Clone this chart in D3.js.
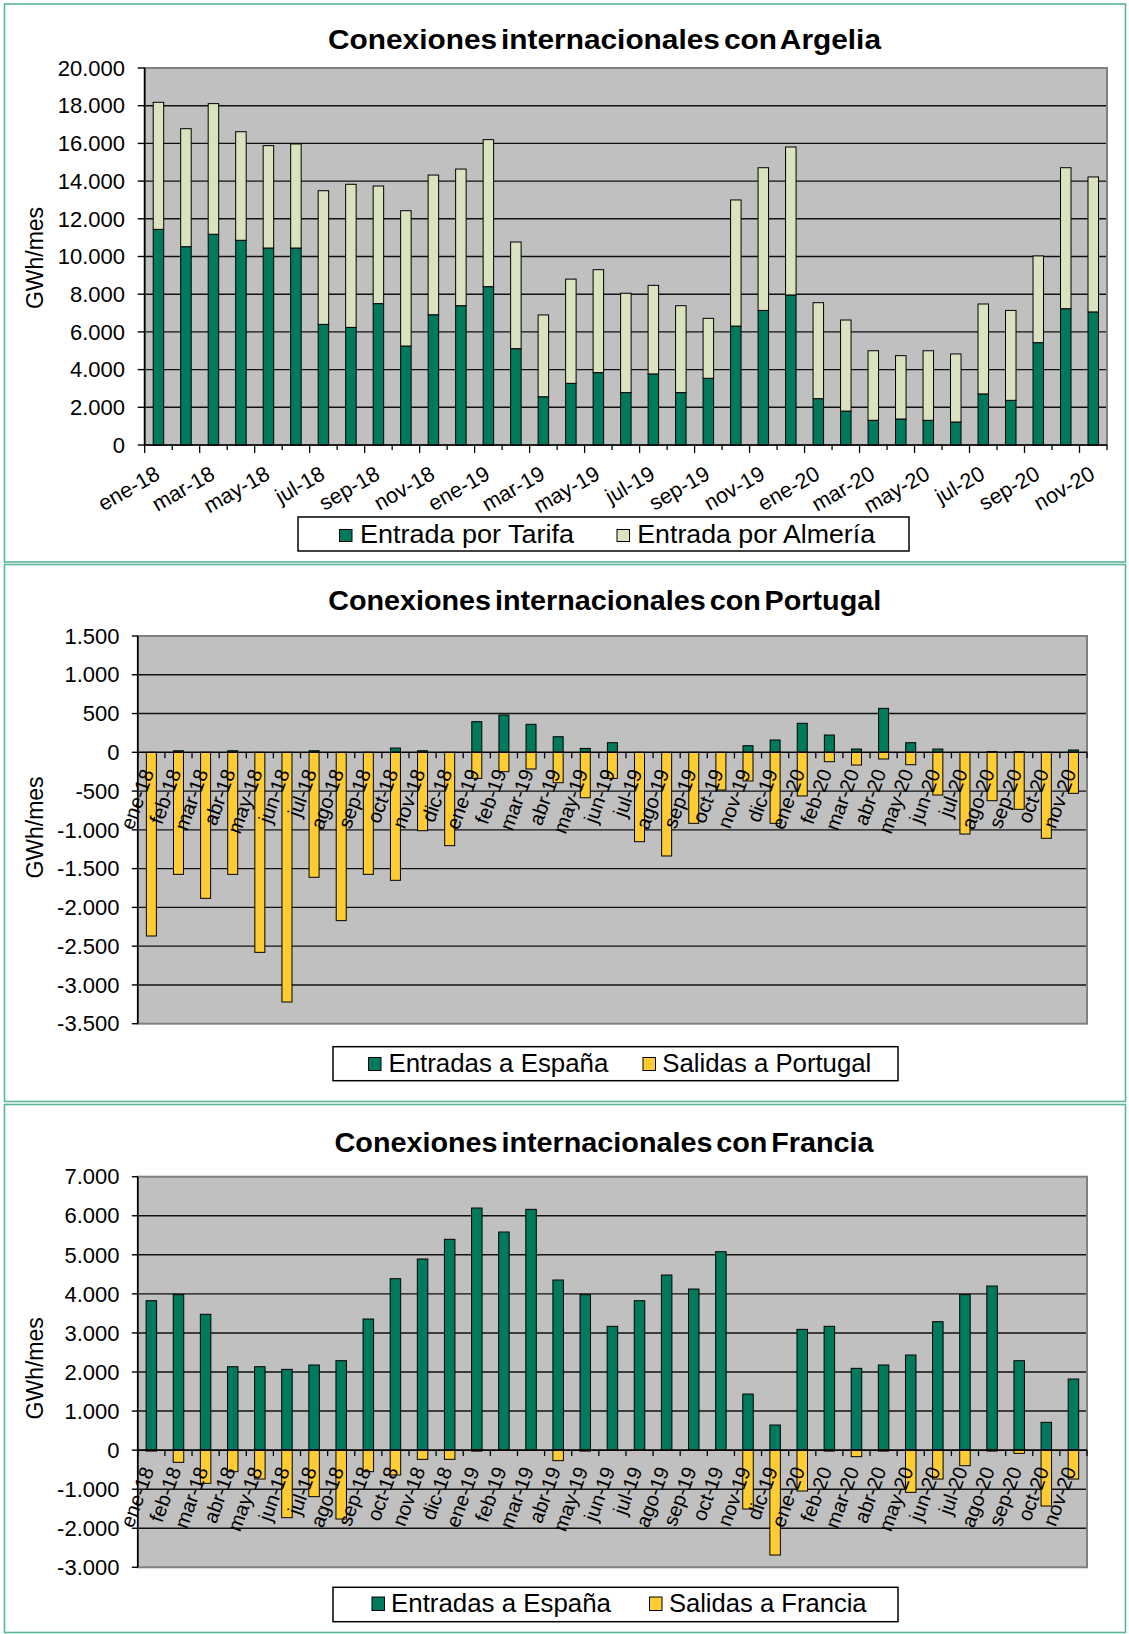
<!DOCTYPE html>
<html><head><meta charset="utf-8">
<script src="https://cdn.jsdelivr.net/npm/d3@7"></script>
<style>
body{margin:0;background:#fff;}
svg{display:block;font-family:"Liberation Sans",Arial,Helvetica,sans-serif;}
</style>
</head><body>
<svg id="c" width="1129" height="1634"></svg>
<script>
// ---------- DATA ----------
const months = ["ene-18","feb-18","mar-18","abr-18","may-18","jun-18","jul-18","ago-18","sep-18","oct-18","nov-18","dic-18",
  "ene-19","feb-19","mar-19","abr-19","may-19","jun-19","jul-19","ago-19","sep-19","oct-19","nov-19","dic-19",
  "ene-20","feb-20","mar-20","abr-20","may-20","jun-20","jul-20","ago-20","sep-20","oct-20","nov-20"];

const argeliaTarifa  = [11440,10520,11180,10860,10450,10450,6400,6240,7500,5250,6910,7390,8400,5110,2560,3270,3840,2780,3770,2780,3540,6310,7140,7960,2460,1800,1310,1380,1310,1220,2710,2370,5430,7230,7060];
const argeliaAlmeria = [6740,6260,6930,5760,5430,5520,7090,7590,6240,7180,7410,7250,7800,5660,4340,5530,5460,5270,4700,4610,3180,6690,7570,7850,5090,4830,3690,3360,3690,3610,4770,4770,4600,7480,7160];

const portugalEntradas = [0,20,0,20,0,0,20,0,0,55,20,0,395,481,361,201,50,124,0,0,0,0,85,159,374,223,42,567,124,42,0,8,8,0,30];
const portugalSalidas  = [-2369,-1574,-1883,-1574,-2580,-3220,-1612,-2171,-1574,-1651,-1011,-1204,-336,-250,-215,-392,-586,-336,-1153,-1337,-916,-486,-370,-916,-563,-121,-164,-86,-160,-551,-1054,-624,-735,-1109,-529];

const franciaEntradas = [3825,3980,3477,2135,2135,2068,2179,2289,3357,4389,4893,5397,6198,5584,6165,4355,3980,3169,3825,4483,4124,5080,1436,643,3092,3169,2094,2179,2435,3288,3980,4201,2289,711,1820];
const franciaSalidas  = [-25,-313,-851,-552,-740,-1730,-1192,-1764,-552,-637,-236,-236,-25,0,0,-270,-25,0,0,0,0,0,-1508,-2686,-1047,-25,-168,-25,-1081,-740,-399,-25,-83,-1431,-740];

const argeliaTicks  = [0,2000,4000,6000,8000,10000,12000,14000,16000,18000,20000];
const portugalTicks = [-3500,-3000,-2500,-2000,-1500,-1000,-500,0,500,1000,1500];
const franciaTicks  = [-3000,-2000,-1000,0,1000,2000,3000,4000,5000,6000,7000];

const titles = ["Conexiones internacionales con Argelia","Conexiones internacionales con Portugal","Conexiones internacionales con Francia"];
const yTitle = "GWh/mes";
const legendArgelia  = ["Entrada por Tarifa","Entrada por Almería"];
const legendPortugal = ["Entradas a España","Salidas a Portugal"];
const legendFrancia  = ["Entradas a España","Salidas a Francia"];

// ---------- STYLE ----------
const C_DARK = "#007A5C", C_LIGHT = "#D9E4BE", C_YEL = "#FFCC33", C_BG = "#C0C0C0", C_PANEL = "#5BB597";
const loc = d3.formatLocale({decimal:",", thousands:".", grouping:[3], currency:["","€"], minus:"-"});
const fmt = loc.format(",d");
const svg = d3.select("#c");

function drawChart(cfg){
  const g = svg.append("g");
  // panel
  g.append("rect").attr("x",cfg.panel[0]).attr("y",cfg.panel[1]).attr("width",cfg.panel[2]).attr("height",cfg.panel[3])
    .attr("fill","#fff").attr("stroke",C_PANEL).attr("stroke-width",1.6);
  // title
  g.append("text").attr("x",cfg.title.x).attr("y",cfg.title.y).attr("text-anchor","middle")
    .attr("font-size",28).attr("font-weight","bold").attr("word-spacing",-4)
    .attr("textLength",cfg.title.len).attr("lengthAdjust","spacingAndGlyphs")
    .text(cfg.title.text);

  const [px0,px1,py0,py1] = cfg.plot;
  const x = d3.scaleBand().domain(months).range([px0,px1]).paddingInner(0).paddingOuter(0);
  const y = d3.scaleLinear().domain(cfg.domain).range([py1,py0]);
  const bw = cfg.barW;

  g.append("rect").attr("x",px0).attr("y",py0).attr("width",px1-px0).attr("height",py1-py0).attr("fill",C_BG);
  // gridlines
  g.selectAll(".grid").data(cfg.ticks.filter(t=>t!==cfg.domain[0] && t!==cfg.domain[1] && t!==0)).enter()
    .append("line").attr("x1",px0).attr("x2",px1).attr("y1",d=>y(d)).attr("y2",d=>y(d))
    .attr("stroke","#111").attr("stroke-width",1.4);
  // plot border
  g.append("rect").attr("x",px0).attr("y",py0).attr("width",px1-px0).attr("height",py1-py0)
    .attr("fill","none").attr("stroke","#808080").attr("stroke-width",2);

  // bars
  cfg.series.forEach(s=>{
    g.selectAll(null).data(months).enter().append("rect")
      .attr("x",d=>x(d)+x.bandwidth()/2-bw/2)
      .attr("width",bw)
      .attr("y",(d,i)=>{const b=s.base?s.base[i]:0; const v=s.values[i]; return Math.min(y(b),y(b+v));})
      .attr("height",(d,i)=>{const b=s.base?s.base[i]:0; const v=s.values[i]; return Math.abs(y(b+v)-y(b));})
      .attr("fill",s.color).attr("stroke","#000").attr("stroke-width",1)
      .attr("display",(d,i)=>s.values[i]===0?"none":null);
  });

  // y axis
  g.append("line").attr("x1",px0).attr("x2",px0).attr("y1",py0).attr("y2",py1).attr("stroke","#000").attr("stroke-width",1.6);
  g.selectAll(null).data(cfg.ticks).enter().append("line")
    .attr("x1",px0-cfg.yTickLen).attr("x2",px0).attr("y1",d=>y(d)).attr("y2",d=>y(d)).attr("stroke","#000").attr("stroke-width",1.4);
  g.selectAll(null).data(cfg.ticks).enter().append("text")
    .attr("x",cfg.yLabelX).attr("y",d=>y(d)).attr("dy","0.35em").attr("text-anchor","end")
    .attr("font-size",22).text(d=>fmt(d));

  // x axis at 0
  const y0 = y(0);
  g.append("line").attr("x1",px0).attr("x2",px1).attr("y1",y0).attr("y2",y0).attr("stroke","#000").attr("stroke-width",1.6);
  const bounds = d3.range(months.length+1).map(i=>px0+i*x.bandwidth());
  g.selectAll(null).data(bounds).enter().append("line")
    .attr("x1",d=>d).attr("x2",d=>d).attr("y1",y0)
    .attr("y2",(d,i)=>y0+(cfg.labelEvery===2 ? (i%2===0?8:5) : 6))
    .attr("stroke","#000").attr("stroke-width",1.3);

  // x labels
  g.selectAll(null).data(months.filter((m,i)=>i%cfg.labelEvery===0)).enter().append("text")
    .attr("transform",d=>{const ax=x(d)+x.bandwidth()/2+cfg.lab.dx, ay=y0+cfg.lab.dy; return `translate(${ax},${ay}) rotate(${cfg.lab.rot})`;})
    .attr("text-anchor","end").attr("font-size",cfg.lab.fs).text(d=>d);

  // y title
  g.append("text").attr("transform",`translate(${cfg.yTitle[0]},${cfg.yTitle[1]}) rotate(-90)`)
    .attr("text-anchor","middle").attr("dy","0.35em").attr("font-size",23).text(yTitle);

  // legend
  const L = cfg.legend;
  g.append("rect").attr("x",L.box[0]).attr("y",L.box[1]).attr("width",L.box[2]).attr("height",L.box[3])
    .attr("fill","#fff").attr("stroke","#000").attr("stroke-width",1.5);
  L.items.forEach(it=>{
    g.append("rect").attr("x",it.sx).attr("y",L.sy).attr("width",L.sw).attr("height",L.sh)
      .attr("fill",it.color).attr("stroke","#000").attr("stroke-width",1);
    g.append("text").attr("x",it.tx).attr("y",L.ty).attr("font-size",25)
      .attr("textLength",it.len).attr("lengthAdjust","spacingAndGlyphs").text(it.text);
  });
}

drawChart({
  panel:[4.5,4,1121,558],
  title:{x:604.5,y:49,len:553,text:titles[0]},
  plot:[144.7,1107,68,445], domain:[0,20000], ticks:argeliaTicks, barW:10.5,
  series:[
    {values:argeliaTarifa, color:C_DARK},
    {values:argeliaAlmeria, base:argeliaTarifa, color:C_LIGHT}
  ],
  yTickLen:7, yLabelX:125, labelEvery:2,
  lab:{dx:3, dy:33, rot:-30, fs:21.5},
  yTitle:[34.5,258],
  legend:{box:[298,517,611,34], sy:529.5, sw:12.5, sh:12, ty:542.5,
    items:[{sx:339.5,tx:360,len:214,text:legendArgelia[0],color:C_DARK},
           {sx:617,tx:637.3,len:237.7,text:legendArgelia[1],color:C_LIGHT}]}
});

drawChart({
  panel:[4.5,564.5,1121,537],
  title:{x:604.7,y:610,len:553,text:titles[1]},
  plot:[137.8,1087,636,1023.7], domain:[-3500,1500], ticks:portugalTicks, barW:10,
  series:[
    {values:portugalEntradas, color:C_DARK},
    {values:portugalSalidas, color:C_YEL}
  ],
  yTickLen:6, yLabelX:119.5, labelEvery:1,
  lab:{dx:3, dy:20, rot:-70, fs:20},
  yTitle:[34.5,827.5],
  legend:{box:[333,1046.7,565,34], sy:1057.5, sw:12.5, sh:13, ty:1071.7,
    items:[{sx:368.5,tx:388.4,len:220,text:legendPortugal[0],color:C_DARK},
           {sx:643,tx:662.3,len:209,text:legendPortugal[1],color:C_YEL}]}
});

drawChart({
  panel:[4.5,1104.5,1121,528],
  title:{x:604.1,y:1151.7,len:539,text:titles[2]},
  plot:[137.8,1087,1176.7,1567.3], domain:[-3000,7000], ticks:franciaTicks, barW:10.5,
  series:[
    {values:franciaEntradas, color:C_DARK},
    {values:franciaSalidas, color:C_YEL}
  ],
  yTickLen:6, yLabelX:119.5, labelEvery:1,
  lab:{dx:3, dy:20, rot:-70, fs:20},
  yTitle:[34.5,1368.3],
  legend:{box:[333,1587.3,565,34.4], sy:1597, sw:12.5, sh:13.5, ty:1612.3,
    items:[{sx:372,tx:391,len:220,text:legendFrancia[0],color:C_DARK},
           {sx:649.5,tx:668.9,len:197.7,text:legendFrancia[1],color:C_YEL}]}
});
</script>
</body></html>
